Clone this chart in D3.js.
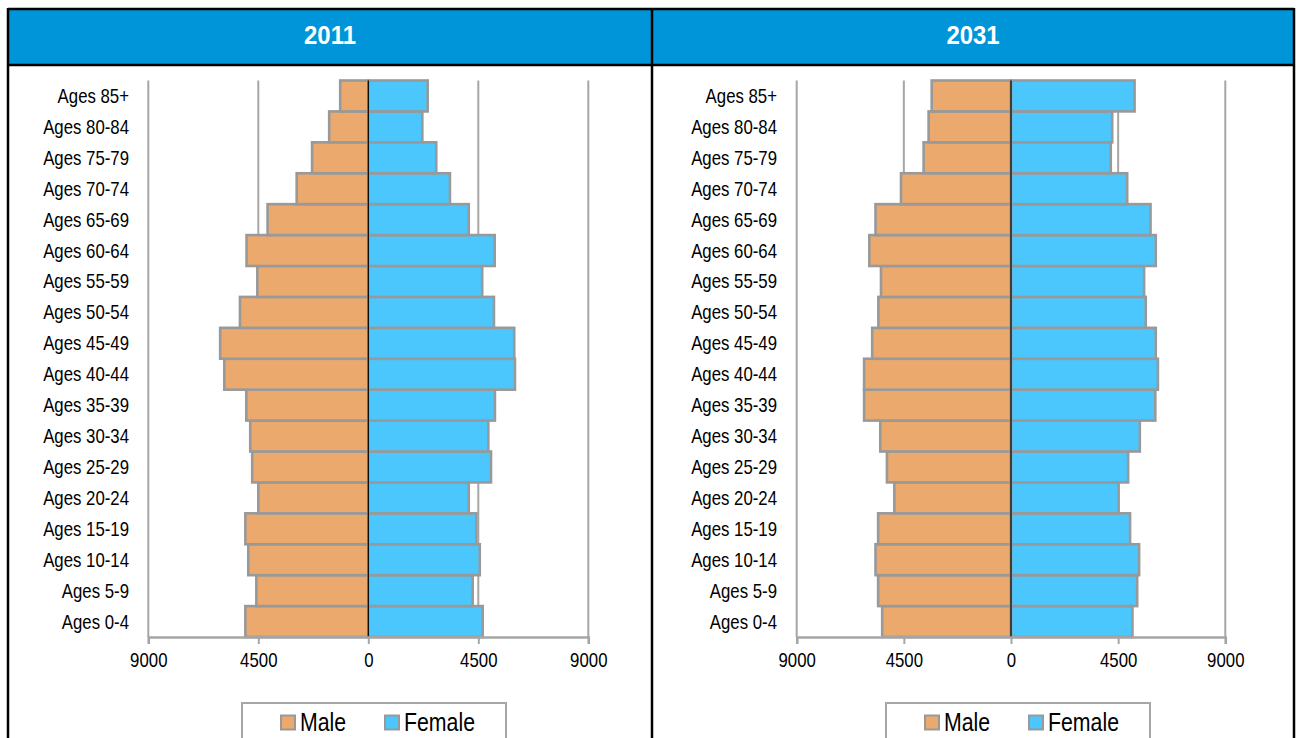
<!DOCTYPE html>
<html>
<head>
<meta charset="utf-8">
<script src="https://cdn.jsdelivr.net/npm/d3@7"></script>
<style>
  body { margin: 0; background: #fff; }
  text { font-family: "Liberation Sans Narrow", "Arial Narrow", "Liberation Sans", sans-serif; }
</style>
</head>
<body>
<svg id="chart" width="1298" height="738"></svg>
<script>
// Population pyramid values (thousands of people)
const ageGroups = [
  'Ages 0-4', 'Ages 5-9', 'Ages 10-14', 'Ages 15-19', 'Ages 20-24', 'Ages 25-29',
  'Ages 30-34', 'Ages 35-39', 'Ages 40-44', 'Ages 45-49', 'Ages 50-54', 'Ages 55-59',
  'Ages 60-64', 'Ages 65-69', 'Ages 70-74', 'Ages 75-79', 'Ages 80-84', 'Ages 85+'
];
const male2011 = [5030, 4580, 4910, 5030, 4500, 4750, 4830, 4990, 5890, 6060,
  5250, 4540, 4980, 4120, 2930, 2300, 1600, 1150];
const female2011 = [4680, 4270, 4560, 4420, 4110, 5020, 4910, 5180, 6000, 5970,
  5140, 4660, 5170, 4110, 3340, 2780, 2210, 2430];
const male2031 = [5410, 5580, 5690, 5580, 4900, 5210, 5490, 6170, 6170, 5830,
  5570, 5460, 5950, 5690, 4620, 3670, 3460, 3330];
const female2031 = [5100, 5300, 5380, 5000, 4520, 4920, 5410, 6060, 6170, 6080,
  5660, 5590, 6080, 5860, 4880, 4190, 4250, 5190];
const years = ['2011', '2031'];
const tickValues = [-9000, -4500, 0, 4500, 9000];
const seriesNames = ['Male', 'Female'];

const colors = { male: '#EBA96E', female: '#4BC7FD', edge: '#999999', grid: '#A6A6A6' };
// no narrow font installed, so squeeze the regular one horizontally
const squeeze = 0.84;

const svg = d3.select('#chart');

const panels = [
  { year: years[0], male: male2011, female: female2011, x0: 8, x1: 652, range: [148.3, 588.3], labelX: 129, legendX: 242 },
  { year: years[1], male: male2031, female: female2031, x0: 652, x1: 1294, range: [796.7, 1225.3], labelX: 777, legendX: 886 }
];

const plotTop = 80.5;
const plotBottom = 637;

panels.forEach(p => {
  const g = svg.append('g');

  // Header band
  g.append('rect')
    .attr('x', p.x0).attr('y', 9)
    .attr('width', p.x1 - p.x0).attr('height', 56)
    .attr('fill', '#0095D9');
  g.append('text')
    .attr('transform', `translate(${(p.x0 + p.x1) / 2},44) scale(0.92,1)`)
    .attr('text-anchor', 'middle')
    .style('font-family', '"Liberation Sans", Arial, sans-serif')
    .attr('font-weight', 'bold')
    .attr('font-size', 26)
    .attr('fill', '#fff')
    .text(p.year);

  const x = d3.scaleLinear().domain([-9000, 9000]).range(p.range);
  const y = d3.scaleBand()
    .domain(ageGroups.slice().reverse())
    .range([plotTop, plotBottom])
    .padding(0);

  // Vertical gridlines
  g.append('g').selectAll('line')
    .data(tickValues.filter(d => d !== 0))
    .join('line')
    .attr('x1', d => x(d)).attr('x2', d => x(d))
    .attr('y1', plotTop).attr('y2', plotBottom)
    .attr('stroke', colors.grid).attr('stroke-width', 2);

  // Male bars (left side)
  g.append('g').selectAll('rect')
    .data(ageGroups)
    .join('rect')
    .attr('x', (d, i) => x(-p.male[i]))
    .attr('y', d => y(d))
    .attr('width', (d, i) => x(0) - x(-p.male[i]))
    .attr('height', y.bandwidth())
    .attr('fill', colors.male)
    .attr('stroke', colors.edge).attr('stroke-width', 2.6);

  // Female bars (right side)
  g.append('g').selectAll('rect')
    .data(ageGroups)
    .join('rect')
    .attr('x', x(0))
    .attr('y', d => y(d))
    .attr('width', (d, i) => x(p.female[i]) - x(0))
    .attr('height', y.bandwidth())
    .attr('fill', colors.female)
    .attr('stroke', colors.edge).attr('stroke-width', 2.6);

  // Zero line
  g.append('line')
    .attr('x1', x(0)).attr('x2', x(0))
    .attr('y1', plotTop).attr('y2', plotBottom)
    .attr('stroke', '#000').attr('stroke-width', 1.2);

  // Horizontal axis
  const axis = g.append('g')
    .attr('transform', `translate(0,${plotBottom})`)
    .call(d3.axisBottom(x).tickValues(tickValues).tickSize(7).tickPadding(9)
      .tickFormat(d => Math.abs(d)));
  axis.select('.domain').attr('stroke', colors.grid).attr('stroke-width', 2.5);
  axis.selectAll('.tick line').attr('stroke', colors.grid).attr('stroke-width', 2);
  axis.selectAll('.tick text')
    .attr('font-size', 20)
    .attr('fill', '#000')
    .attr('transform', `scale(${squeeze},1)`)
    .style('font-family', '"Liberation Sans Narrow", "Arial Narrow", "Liberation Sans", sans-serif');

  // Category labels
  g.append('g').selectAll('text')
    .data(ageGroups)
    .join('text')
    .attr('transform', d => `translate(${p.labelX},${y(d) + y.bandwidth() / 2}) scale(${squeeze},1)`)
    .attr('dy', '0.35em')
    .attr('text-anchor', 'end')
    .attr('font-size', 20)
    .attr('fill', '#000')
    .text(d => d);

  // Legend
  const lg = g.append('g').attr('transform', `translate(${p.legendX},703)`);
  lg.append('rect')
    .attr('x', 0).attr('y', 0)
    .attr('width', 264).attr('height', 50)
    .attr('fill', '#fff')
    .attr('stroke', colors.grid).attr('stroke-width', 2);
  const items = lg.selectAll('g.item')
    .data(seriesNames)
    .join('g').attr('class', 'item')
    .attr('transform', (d, i) => `translate(${i === 0 ? 39 : 143},0)`);
  items.append('rect')
    .attr('x', 0).attr('y', 12.5)
    .attr('width', 14).attr('height', 14)
    .attr('fill', (d, i) => i === 0 ? colors.male : colors.female)
    .attr('stroke', colors.edge).attr('stroke-width', 2);
  items.append('text')
    .attr('transform', `translate(19,28) scale(0.82,1)`)
    .attr('font-size', 26)
    .attr('fill', '#000')
    .text(d => d);
});

// Table borders
const border = svg.append('g').attr('stroke', '#000').attr('stroke-width', 2.5).attr('fill', 'none');
border.append('line').attr('x1', 8).attr('x2', 1294).attr('y1', 9).attr('y2', 9);
border.append('line').attr('x1', 8).attr('x2', 1294).attr('y1', 65).attr('y2', 65);
[8, 652, 1294].forEach(xv => {
  border.append('line').attr('x1', xv).attr('x2', xv).attr('y1', 8).attr('y2', 738);
});
</script>
</body>
</html>
